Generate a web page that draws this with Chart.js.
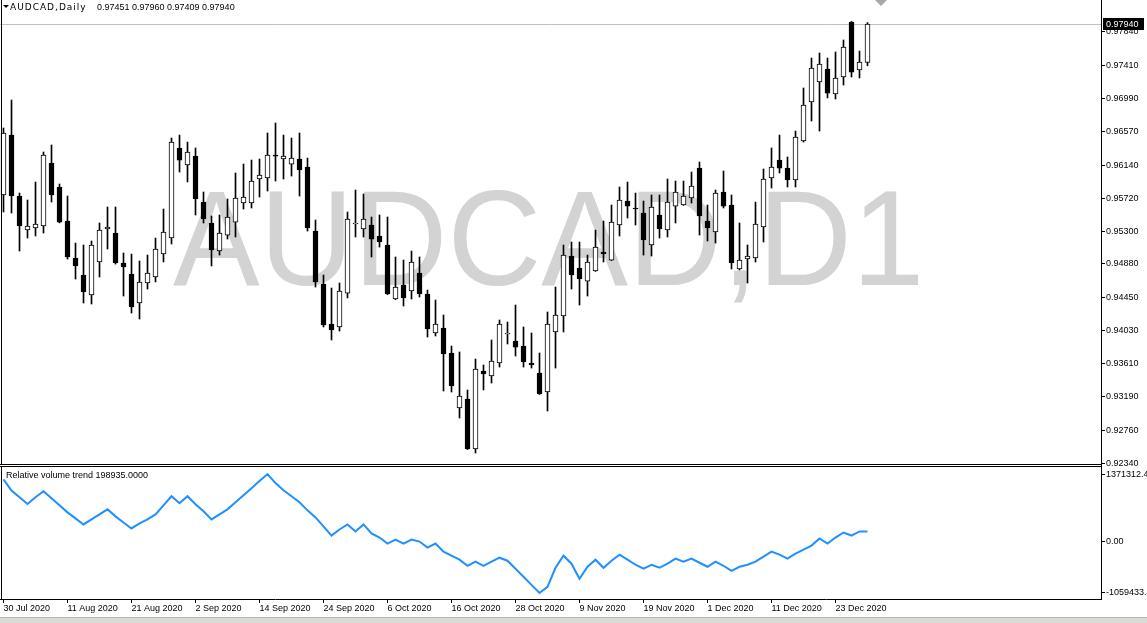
<!DOCTYPE html>
<html>
<head>
<meta charset="utf-8">
<script src="https://cdn.jsdelivr.net/npm/chart.js@4.4.1/dist/chart.umd.min.js"></script>
<style>
  html, body { margin: 0; padding: 0; background: #fff; }
  #wrap { position: relative; width: 1147px; height: 623px; overflow: hidden; background: #fff; }
  #main { position: absolute; left: 0; top: 0; }
  #ind { position: absolute; left: 0; top: 465px; }
  #foot { position: absolute; left: 0; top: 617px; width: 1147px; height: 6px; background: #dcdad5; border-top: 1px solid #b8b6b0; }
</style>
</head>
<body>
<div id="wrap">
  <canvas id="main" width="1147" height="472"></canvas>
  <canvas id="ind" width="1147" height="153"></canvas>
  <div id="foot"></div>
</div>
<script>
// AUDCAD daily, 30 Jul 2020 .. end Dec 2020
const opens = [0.95760,0.96525,0.95747,0.95313,0.95339,0.95364,0.96168,0.95862,0.95428,0.94956,
  0.94739,0.94484,0.94905,0.95326,0.95275,0.94892,0.94752,0.94382,0.94637,0.94714,
  0.95007,0.95211,0.96360,0.96143,0.96257,0.95670,0.95403,0.95045,0.95249,0.95415,
  0.95658,0.95658,0.95964,0.95977,0.96270,0.96219,0.96155,0.96219,0.96117,0.95300,
  0.94624,0.94114,0.94076,0.94509,0.95390,0.95326,0.95377,0.95237,0.95122,0.94433,
  0.94611,0.94535,0.94765,0.94497,0.93999,0.94063,0.93744,0.93042,0.93157,0.92519,
  0.93514,0.93450,0.93616,0.93986,0.93897,0.93833,0.93616,0.93489,0.93246,0.94012,
  0.94216,0.94981,0.94828,0.94662,0.94790,0.95032,0.94930,0.95377,0.95683,0.95594,
  0.95530,0.95122,0.95505,0.95313,0.95619,0.95632,0.95722,0.96104,0.95428,0.95288,
  0.95798,0.95632,0.94816,0.94943,0.94956,0.95352,0.95977,0.96206,0.96104,0.95951,
  0.96449,0.96947,0.97202,0.97368,0.97049,0.97266,0.97967,0.97355,0.97451];
const highs = [0.96615,0.96972,0.95785,0.95696,0.95926,0.96309,0.96398,0.95900,0.95747,0.95147,
  0.95122,0.95173,0.95403,0.95607,0.95607,0.95020,0.95007,0.94918,0.94994,0.95211,
  0.95581,0.96487,0.96525,0.96436,0.96360,0.95798,0.95492,0.95505,0.95709,0.96041,
  0.96155,0.96206,0.96219,0.96551,0.96679,0.96525,0.96487,0.96551,0.96232,0.95441,
  0.94739,0.94573,0.94637,0.95543,0.95824,0.95773,0.95479,0.95505,0.95479,0.94969,
  0.94930,0.95045,0.94969,0.94548,0.94420,0.94229,0.93833,0.93757,0.93272,0.93667,
  0.93591,0.93910,0.94165,0.94139,0.94356,0.94076,0.93999,0.93744,0.94267,0.94586,
  0.95122,0.95160,0.95160,0.94994,0.95313,0.95428,0.95632,0.95862,0.95926,0.95785,
  0.95683,0.95760,0.95760,0.95964,0.95938,0.95938,0.96053,0.96181,0.95632,0.95824,
  0.96066,0.95760,0.95403,0.95122,0.95670,0.96092,0.96360,0.96525,0.96245,0.96576,
  0.97125,0.97508,0.97572,0.97508,0.97585,0.97738,0.97975,0.97597,0.97960];
const lows = [0.95543,0.95530,0.95045,0.95211,0.95237,0.95275,0.95670,0.95405,0.94943,0.94688,
  0.94382,0.94369,0.94714,0.95071,0.94879,0.94471,0.94254,0.94178,0.94560,0.94650,
  0.94905,0.95135,0.96053,0.95926,0.95505,0.95403,0.94854,0.94994,0.95198,0.95224,
  0.95581,0.95594,0.95734,0.95811,0.95938,0.95964,0.96002,0.95747,0.95300,0.94586,
  0.94076,0.93910,0.94024,0.94446,0.95224,0.95224,0.94969,0.95096,0.94490,0.94425,
  0.94343,0.94433,0.94458,0.93948,0.93961,0.93259,0.93246,0.92914,0.92512,0.92468,
  0.93272,0.93361,0.93565,0.93859,0.93705,0.93565,0.93552,0.93215,0.93004,0.93552,
  0.94012,0.94560,0.94356,0.94471,0.94785,0.94905,0.94925,0.95237,0.95466,0.95377,
  0.94994,0.94981,0.95211,0.95224,0.95403,0.95628,0.95658,0.95249,0.95173,0.95147,
  0.95594,0.94816,0.94803,0.94637,0.94905,0.95160,0.95849,0.96041,0.95862,0.95862,
  0.96436,0.96704,0.96576,0.96998,0.96985,0.97163,0.97266,0.97253,0.97409];
const closes = [0.96551,0.95747,0.95364,0.95364,0.95390,0.96270,0.95760,0.95415,0.94969,0.94854,
  0.94522,0.95122,0.95313,0.95352,0.94892,0.94841,0.94331,0.94650,0.94765,0.95071,
  0.95288,0.96436,0.96206,0.96309,0.95709,0.95454,0.95058,0.95275,0.95479,0.95722,
  0.95734,0.95938,0.96015,0.96270,0.96257,0.96257,0.96232,0.96079,0.95339,0.94650,
  0.94101,0.94037,0.94535,0.95454,0.95395,0.95454,0.95198,0.95160,0.94497,0.94586,
  0.94446,0.94905,0.94497,0.94050,0.94114,0.93731,0.93323,0.93195,0.92519,0.93540,
  0.93476,0.93642,0.94114,0.93999,0.93820,0.93629,0.93591,0.93221,0.94114,0.94229,
  0.94994,0.94739,0.94688,0.94905,0.95096,0.95007,0.95415,0.95696,0.95619,0.95581,
  0.95186,0.95607,0.95326,0.95670,0.95798,0.95747,0.95875,0.95492,0.95339,0.95785,
  0.95619,0.94892,0.94930,0.94981,0.95390,0.95964,0.96117,0.96104,0.95951,0.96500,
  0.96908,0.97380,0.97431,0.97061,0.97253,0.97648,0.97329,0.97457,0.97940];

// Relative volume trend indicator
const rvt = [1263000,1036000,898000,760000,898000,1022000,878000,733000,589000,466000,
  342000,445000,548000,651000,507000,383000,260000,363000,445000,548000,
  733000,919000,775000,919000,754000,610000,445000,548000,651000,795000,
  939000,1084000,1228000,1371312,1187000,1042000,919000,795000,630000,486000,
  301000,115000,239000,342000,198000,342000,157000,74000,-49000,33000,
  -49000,33000,-8000,-132000,-49000,-214000,-297000,-379000,-503000,-420000,
  -503000,-420000,-338000,-400000,-564000,-729000,-894000,-1059433,-935000,-544000,
  -297000,-461000,-770000,-523000,-379000,-544000,-400000,-276000,-379000,-482000,
  -564000,-482000,-544000,-461000,-358000,-420000,-358000,-441000,-523000,-420000,
  -503000,-606000,-523000,-482000,-420000,-317000,-214000,-276000,-358000,-255000,
  -173000,-91000,54000,-49000,74000,177000,115000,198000,198935];

const priceTicks = [0.97840,0.97410,0.96990,0.96570,0.96140,0.95720,0.95300,0.94880,0.94450,0.94030,0.93610,0.93190,0.92760,0.92340];
const rvtTicks = [1371312.44, 0, -1059433.41];
const dateIdx = [0,8,16,24,32,40,48,56,64,72,80,88,96,104];
const dateLabels = ['30 Jul 2020','11 Aug 2020','21 Aug 2020','2 Sep 2020','14 Sep 2020','24 Sep 2020','6 Oct 2020',
  '16 Oct 2020','28 Oct 2020','9 Nov 2020','19 Nov 2020','1 Dec 2020','11 Dec 2020','23 Dec 2020'];

const FONT = 'Liberation Sans';
const xMin = -0.4375, xMax = 137.1875;   // 8px per bar

const candleColors = closes.map((c, i) => c >= opens[i] ? '#ffffff' : '#000000');

const mainDecor = {
  id: 'mainDecor',
  beforeDatasetsDraw(chart) {
    const ctx = chart.ctx;
    const y = chart.scales.y;
    ctx.save();
    // watermark
    ctx.fillStyle = '#d3d3d3';
    ctx.font = '130px "' + FONT + '"';
    ctx.textBaseline = 'alphabetic';
    ctx.translate(173, 285);
    ctx.scale(1, 1.04);
    ctx.fillText('AUDCAD,D1', 0, 0);
    ctx.restore();
    // bid line
    const py = Math.round(y.getPixelForValue(closes[closes.length - 1])) + 0.5;
    ctx.save();
    ctx.strokeStyle = '#c0c0c0';
    ctx.lineWidth = 1;
    ctx.beginPath();
    ctx.moveTo(0, py);
    ctx.lineTo(1101, py);
    ctx.stroke();
    ctx.restore();
  },
  afterDraw(chart) {
    const ctx = chart.ctx;
    const y = chart.scales.y;
    ctx.save();
    ctx.fillStyle = '#000';
    ctx.fillRect(1, 0, 1, 465);
    ctx.fillRect(0, 464, 1101, 1);
    // header
    ctx.beginPath();
    ctx.moveTo(3, 5); ctx.lineTo(9, 5); ctx.lineTo(6, 8); ctx.closePath();
    ctx.fill();
    ctx.textBaseline = 'middle';
    ctx.font = '9px "DejaVu Sans"';
    ctx.letterSpacing = '1px';
    ctx.fillText('AUDCAD,Daily', 10, 8);
    ctx.letterSpacing = '0px';
    ctx.font = '9px "' + FONT + '"';
    ctx.fillText([opens, highs, lows, closes].map(a => a[a.length - 1].toFixed(5)).join(' '), 97, 8);
    // shift marker
    ctx.fillStyle = '#a8a8a8';
    ctx.beginPath();
    ctx.moveTo(875, 0); ctx.lineTo(887, 0); ctx.lineTo(881, 6); ctx.closePath();
    ctx.fill();
    // last price label
    const last = closes[closes.length - 1];
    const py = Math.round(y.getPixelForValue(last));
    ctx.fillStyle = '#000';
    ctx.fillRect(1103, py - 6, 41, 12);
    ctx.fillStyle = '#fff';
    ctx.fillText(last.toFixed(5), 1106, py + 0.5);
    ctx.restore();
  }
};

new Chart(document.getElementById('main'), {
  type: 'bar',
  data: {
    datasets: [
      {
        label: 'body',
        data: opens.map((o, i) => ({ x: i, y: [o, closes[i]] })),
        backgroundColor: candleColors,
        borderColor: '#000',
        borderWidth: 1,
        borderSkipped: false,
        barThickness: 5,
        minBarLength: 1,
        grouped: false,
        order: 1
      },
      {
        label: 'wick',
        data: lows.map((l, i) => ({ x: i, y: [l, highs[i]] })),
        backgroundColor: '#000',
        borderWidth: 0,
        barThickness: 1,
        grouped: false,
        order: 2
      }
    ]
  },
  options: {
    responsive: false,
    animation: false,
    events: [],
    layout: { padding: { left: 0, right: 0, top: 0, bottom: 7 } },
    plugins: { legend: { display: false }, tooltip: { enabled: false } },
    scales: {
      x: { type: 'linear', display: false, min: xMin, max: xMax, offset: false },
      y: {
        position: 'right',
        min: 0.923149,
        max: 0.982483,
        afterBuildTicks(s) { s.ticks = priceTicks.map(v => ({ value: v })); },
        afterFit(s) { s.width = 46; s.paddingTop = 0; s.paddingBottom = 0; },
        ticks: {
          autoSkip: false,
          padding: 1,
          color: '#000',
          font: { family: FONT, size: 9 },
          callback: v => v.toFixed(5)
        },
        grid: { drawOnChartArea: false, color: '#000', tickLength: 4 },
        border: { color: '#000' }
      }
    }
  },
  plugins: [mainDecor]
});

const indDecor = {
  id: 'indDecor',
  afterDraw(chart) {
    const ctx = chart.ctx;
    ctx.save();
    ctx.fillStyle = '#000';
    ctx.fillRect(1, 1, 1, 133);
    ctx.fillRect(0, 1, 1101, 1);
    ctx.font = '9px "' + FONT + '"';
    ctx.textBaseline = 'middle';
    ctx.fillText('Relative volume trend ' + rvt[rvt.length - 1].toFixed(4), 6, 11);
    ctx.restore();
  }
};

new Chart(document.getElementById('ind'), {
  type: 'line',
  data: {
    datasets: [{
      data: rvt.map((v, i) => ({ x: i, y: v })),
      borderColor: '#1e90ff',
      borderWidth: 2,
      pointRadius: 0,
      tension: 0,
      fill: false
    }]
  },
  options: {
    responsive: false,
    animation: false,
    events: [],
    layout: { padding: { left: 0, right: 0, top: 1, bottom: 0 } },
    plugins: { legend: { display: false }, tooltip: { enabled: false } },
    scales: {
      x: {
        type: 'linear',
        min: xMin,
        max: xMax,
        offset: false,
        afterBuildTicks(s) { s.ticks = dateIdx.map(v => ({ value: v })); },
        afterFit(s) { s.height = 19; s.paddingLeft = 0; s.paddingRight = 0; },
        ticks: {
          autoSkip: false,
          maxRotation: 0,
          align: 'start',
          padding: 0,
          color: '#000',
          font: { family: FONT, size: 9 },
          callback: v => dateLabels[dateIdx.indexOf(v)]
        },
        grid: { drawOnChartArea: false, color: '#000', tickLength: 4 },
        border: { color: '#000' }
      },
      y: {
        position: 'right',
        min: -1182440,
        max: 1536760,
        afterBuildTicks(s) { s.ticks = rvtTicks.map(v => ({ value: v })); },
        afterFit(s) { s.width = 46; s.paddingTop = 0; s.paddingBottom = 0; },
        ticks: {
          autoSkip: false,
          padding: 1,
          color: '#000',
          font: { family: FONT, size: 9 },
          callback: v => v.toFixed(2)
        },
        grid: { drawOnChartArea: false, color: '#000', tickLength: 4 },
        border: { color: '#000' }
      }
    }
  },
  plugins: [indDecor]
});
</script>
</body>
</html>
